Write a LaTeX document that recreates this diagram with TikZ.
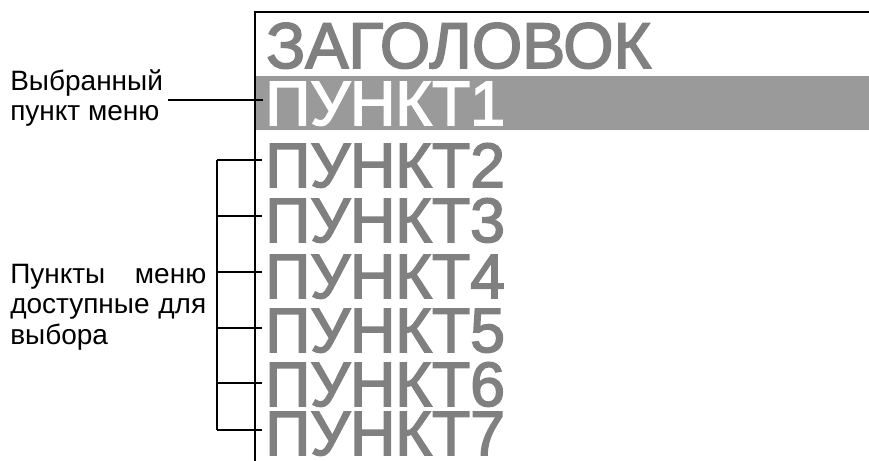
\documentclass[tikz,border=0pt]{standalone}
\usepackage{fontspec}
\setmainfont{Liberation Sans}
\newfontfamily\menufont[FakeBold=2.5]{Liberation Sans}
\usepackage{xcolor}
\usetikzlibrary{positioning,calc}

\definecolor{itemgray}{HTML}{808080}
\definecolor{selgray}{HTML}{9A9A9A}

\begin{document}
\begin{tikzpicture}[x=0.75pt, y=-0.75pt]
  \tikzstyle{item}=[inner sep=0pt, anchor=base west, text=itemgray, font=\menufont\fontsize{47}{47}\selectfont]
  \tikzstyle{note}=[inner sep=0pt, anchor=west, font=\fontsize{21}{23}\selectfont]
  \tikzstyle{wire}=[line width=1pt]

  \useasboundingbox (0,0) rectangle (869,461);

  % Выбранная строка
  \fill[selgray] (256,76) rectangle (869,130);

  % Экран
  \draw[wire] (255,461) -- (255,12) -- (869,12);

  \node[item, font=\menufont\fontsize{48.5}{48.5}\selectfont] (title) at (266,68) {ЗАГОЛОВОК};
  \node[item, text=white] (p1) at (265,125) {ПУНКТ1};
  \node[item] (p2) at (265,187) {ПУНКТ2};
  \node[item] (p3) at (265,242) {ПУНКТ3};
  \node[item] (p4) at (265,298) {ПУНКТ4};
  \node[item] (p5) at (265,352) {ПУНКТ5};
  \node[item] (p6) at (265,406) {ПУНКТ6};
  \node[item] (p7) at (265,455) {ПУНКТ7};

  % Подписи
  \node[note, align=left] (sel) at (10,98) {Выбранный\\пункт меню};
  \node[note, text width=147pt, align=justify] (avail) at (10,307) {Пункты меню доступные для выбора};

  \coordinate (selend) at (263,100);
  \draw[wire] (selend -| sel.east) ++(5,0) -- (selend);

  % Скобка
  \coordinate (b2) at (217,160);
  \coordinate (b3) at (217,216);
  \coordinate (b4) at (217,272);
  \coordinate (b5) at (217,328);
  \coordinate (b6) at (217,383);
  \coordinate (b7) at (217,430);
  \draw[wire] (b2) -- (b7);
  \draw[wire] (b2) -- ++(45,0);
  \draw[wire] (b3) -- ++(45,0);
  \draw[wire] (b4) -- ++(45,0);
  \draw[wire] (b5) -- ++(45,0);
  \draw[wire] (b6) -- ++(45,0);
  \draw[wire] (b7) -- ++(45,0);
\end{tikzpicture}
\end{document}
